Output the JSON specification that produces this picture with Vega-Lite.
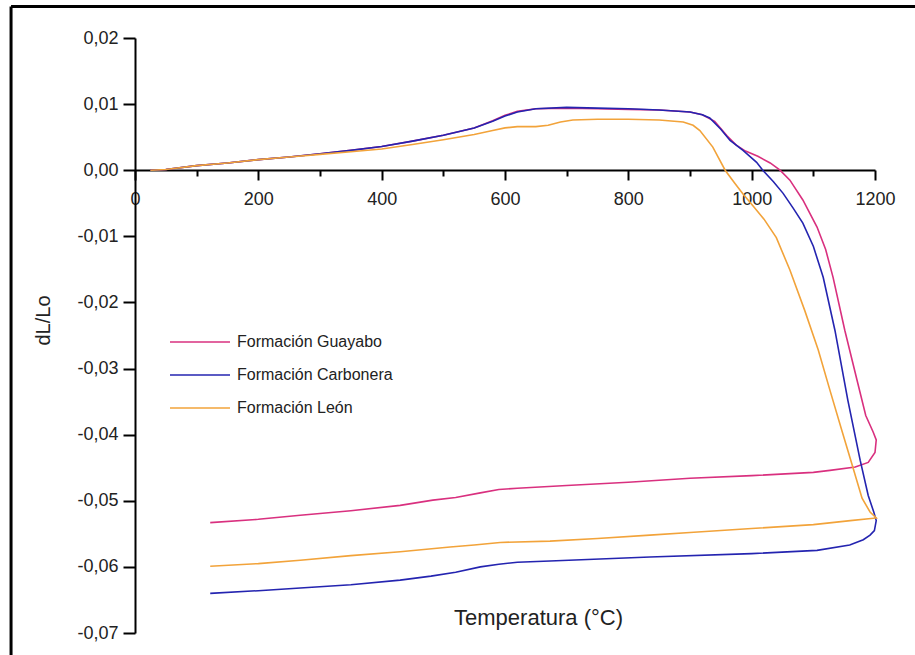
{
  "$schema": "https://vega.github.io/schema/vega-lite/v6.json",
  "width": 740,
  "height": 595,
  "autosize": {"type": "none"},
  "padding": {"left": 135, "top": 38, "right": 40, "bottom": 22},
  "background": "white",
  "config": {"view": {"stroke": null}, "font": "Liberation Sans"},
  "datasets": {
    "curves": [
      {"s":"Formación Guayabo","i":1,"T":25,"v":0},
      {"s":"Formación Guayabo","i":2,"T":50,"v":0.0001},
      {"s":"Formación Guayabo","i":3,"T":100,"v":0.0007},
      {"s":"Formación Guayabo","i":4,"T":150,"v":0.0011},
      {"s":"Formación Guayabo","i":5,"T":200,"v":0.0016},
      {"s":"Formación Guayabo","i":6,"T":250,"v":0.002},
      {"s":"Formación Guayabo","i":7,"T":300,"v":0.0025},
      {"s":"Formación Guayabo","i":8,"T":350,"v":0.003},
      {"s":"Formación Guayabo","i":9,"T":400,"v":0.0036},
      {"s":"Formación Guayabo","i":10,"T":450,"v":0.0044},
      {"s":"Formación Guayabo","i":11,"T":500,"v":0.0053},
      {"s":"Formación Guayabo","i":12,"T":550,"v":0.0064},
      {"s":"Formación Guayabo","i":13,"T":580,"v":0.0075},
      {"s":"Formación Guayabo","i":14,"T":600,"v":0.0083},
      {"s":"Formación Guayabo","i":15,"T":620,"v":0.0089},
      {"s":"Formación Guayabo","i":16,"T":650,"v":0.0093},
      {"s":"Formación Guayabo","i":17,"T":700,"v":0.0094},
      {"s":"Formación Guayabo","i":18,"T":750,"v":0.0093},
      {"s":"Formación Guayabo","i":19,"T":800,"v":0.0092},
      {"s":"Formación Guayabo","i":20,"T":850,"v":0.0091},
      {"s":"Formación Guayabo","i":21,"T":900,"v":0.0088},
      {"s":"Formación Guayabo","i":22,"T":920,"v":0.0084},
      {"s":"Formación Guayabo","i":23,"T":940,"v":0.0074},
      {"s":"Formación Guayabo","i":24,"T":960,"v":0.0052},
      {"s":"Formación Guayabo","i":25,"T":975,"v":0.0038},
      {"s":"Formación Guayabo","i":26,"T":990,"v":0.0029},
      {"s":"Formación Guayabo","i":27,"T":1010,"v":0.0021},
      {"s":"Formación Guayabo","i":28,"T":1030,"v":0.0011},
      {"s":"Formación Guayabo","i":29,"T":1046,"v":0},
      {"s":"Formación Guayabo","i":30,"T":1062,"v":-0.0015},
      {"s":"Formación Guayabo","i":31,"T":1083,"v":-0.0045},
      {"s":"Formación Guayabo","i":32,"T":1106,"v":-0.0086},
      {"s":"Formación Guayabo","i":33,"T":1120,"v":-0.012},
      {"s":"Formación Guayabo","i":34,"T":1132,"v":-0.0162},
      {"s":"Formación Guayabo","i":35,"T":1151,"v":-0.0242},
      {"s":"Formación Guayabo","i":36,"T":1171,"v":-0.0318},
      {"s":"Formación Guayabo","i":37,"T":1185,"v":-0.0371},
      {"s":"Formación Guayabo","i":38,"T":1197,"v":-0.0396},
      {"s":"Formación Guayabo","i":39,"T":1202,"v":-0.0408},
      {"s":"Formación Guayabo","i":40,"T":1200,"v":-0.0427},
      {"s":"Formación Guayabo","i":41,"T":1189,"v":-0.0442},
      {"s":"Formación Guayabo","i":42,"T":1168,"v":-0.0449},
      {"s":"Formación Guayabo","i":43,"T":1127,"v":-0.0454},
      {"s":"Formación Guayabo","i":44,"T":1100,"v":-0.0457},
      {"s":"Formación Guayabo","i":45,"T":1000,"v":-0.0462},
      {"s":"Formación Guayabo","i":46,"T":900,"v":-0.0466},
      {"s":"Formación Guayabo","i":47,"T":800,"v":-0.0472},
      {"s":"Formación Guayabo","i":48,"T":700,"v":-0.0477},
      {"s":"Formación Guayabo","i":49,"T":620,"v":-0.0481},
      {"s":"Formación Guayabo","i":50,"T":590,"v":-0.0483},
      {"s":"Formación Guayabo","i":51,"T":560,"v":-0.0488},
      {"s":"Formación Guayabo","i":52,"T":520,"v":-0.0495},
      {"s":"Formación Guayabo","i":53,"T":483,"v":-0.0499},
      {"s":"Formación Guayabo","i":54,"T":430,"v":-0.0507},
      {"s":"Formación Guayabo","i":55,"T":350,"v":-0.0515},
      {"s":"Formación Guayabo","i":56,"T":268,"v":-0.0522},
      {"s":"Formación Guayabo","i":57,"T":200,"v":-0.0528},
      {"s":"Formación Guayabo","i":58,"T":122,"v":-0.0533},

      {"s":"Formación Carbonera","i":1,"T":25,"v":0},
      {"s":"Formación Carbonera","i":2,"T":50,"v":0.0001},
      {"s":"Formación Carbonera","i":3,"T":100,"v":0.0007},
      {"s":"Formación Carbonera","i":4,"T":150,"v":0.0011},
      {"s":"Formación Carbonera","i":5,"T":200,"v":0.0016},
      {"s":"Formación Carbonera","i":6,"T":250,"v":0.002},
      {"s":"Formación Carbonera","i":7,"T":300,"v":0.0025},
      {"s":"Formación Carbonera","i":8,"T":350,"v":0.003},
      {"s":"Formación Carbonera","i":9,"T":400,"v":0.0036},
      {"s":"Formación Carbonera","i":10,"T":450,"v":0.0044},
      {"s":"Formación Carbonera","i":11,"T":500,"v":0.0053},
      {"s":"Formación Carbonera","i":12,"T":550,"v":0.0064},
      {"s":"Formación Carbonera","i":13,"T":580,"v":0.0074},
      {"s":"Formación Carbonera","i":14,"T":600,"v":0.0082},
      {"s":"Formación Carbonera","i":15,"T":620,"v":0.0088},
      {"s":"Formación Carbonera","i":16,"T":650,"v":0.0093},
      {"s":"Formación Carbonera","i":17,"T":700,"v":0.0095},
      {"s":"Formación Carbonera","i":18,"T":750,"v":0.0094},
      {"s":"Formación Carbonera","i":19,"T":800,"v":0.0093},
      {"s":"Formación Carbonera","i":20,"T":850,"v":0.0091},
      {"s":"Formación Carbonera","i":21,"T":900,"v":0.0088},
      {"s":"Formación Carbonera","i":22,"T":920,"v":0.0084},
      {"s":"Formación Carbonera","i":23,"T":932,"v":0.0079},
      {"s":"Formación Carbonera","i":24,"T":950,"v":0.0062},
      {"s":"Formación Carbonera","i":25,"T":965,"v":0.0045},
      {"s":"Formación Carbonera","i":26,"T":986,"v":0.003},
      {"s":"Formación Carbonera","i":27,"T":1008,"v":0.0012},
      {"s":"Formación Carbonera","i":28,"T":1018,"v":0},
      {"s":"Formación Carbonera","i":29,"T":1035,"v":-0.0017},
      {"s":"Formación Carbonera","i":30,"T":1051,"v":-0.0035},
      {"s":"Formación Carbonera","i":31,"T":1067,"v":-0.0057},
      {"s":"Formación Carbonera","i":32,"T":1083,"v":-0.008},
      {"s":"Formación Carbonera","i":33,"T":1100,"v":-0.0115},
      {"s":"Formación Carbonera","i":34,"T":1116,"v":-0.0162},
      {"s":"Formación Carbonera","i":35,"T":1135,"v":-0.0242},
      {"s":"Formación Carbonera","i":36,"T":1156,"v":-0.0348},
      {"s":"Formación Carbonera","i":37,"T":1176,"v":-0.0439},
      {"s":"Formación Carbonera","i":38,"T":1189,"v":-0.0492},
      {"s":"Formación Carbonera","i":39,"T":1198,"v":-0.0517},
      {"s":"Formación Carbonera","i":40,"T":1202,"v":-0.053},
      {"s":"Formación Carbonera","i":41,"T":1199,"v":-0.0545},
      {"s":"Formación Carbonera","i":42,"T":1192,"v":-0.0552},
      {"s":"Formación Carbonera","i":43,"T":1181,"v":-0.0559},
      {"s":"Formación Carbonera","i":44,"T":1159,"v":-0.0567},
      {"s":"Formación Carbonera","i":45,"T":1106,"v":-0.0575},
      {"s":"Formación Carbonera","i":46,"T":1000,"v":-0.058},
      {"s":"Formación Carbonera","i":47,"T":835,"v":-0.0585},
      {"s":"Formación Carbonera","i":48,"T":673,"v":-0.0591},
      {"s":"Formación Carbonera","i":49,"T":620,"v":-0.0593},
      {"s":"Formación Carbonera","i":50,"T":590,"v":-0.0596},
      {"s":"Formación Carbonera","i":51,"T":560,"v":-0.06},
      {"s":"Formación Carbonera","i":52,"T":520,"v":-0.0608},
      {"s":"Formación Carbonera","i":53,"T":480,"v":-0.0614},
      {"s":"Formación Carbonera","i":54,"T":430,"v":-0.062},
      {"s":"Formación Carbonera","i":55,"T":350,"v":-0.0627},
      {"s":"Formación Carbonera","i":56,"T":268,"v":-0.0632},
      {"s":"Formación Carbonera","i":57,"T":200,"v":-0.0636},
      {"s":"Formación Carbonera","i":58,"T":122,"v":-0.064},

      {"s":"Formación León","i":1,"T":25,"v":0},
      {"s":"Formación León","i":2,"T":50,"v":0.0001},
      {"s":"Formación León","i":3,"T":100,"v":0.0007},
      {"s":"Formación León","i":4,"T":150,"v":0.0011},
      {"s":"Formación León","i":5,"T":200,"v":0.0016},
      {"s":"Formación León","i":6,"T":250,"v":0.002},
      {"s":"Formación León","i":7,"T":300,"v":0.0024},
      {"s":"Formación León","i":8,"T":350,"v":0.0028},
      {"s":"Formación León","i":9,"T":400,"v":0.0032},
      {"s":"Formación León","i":10,"T":450,"v":0.0039},
      {"s":"Formación León","i":11,"T":500,"v":0.0046},
      {"s":"Formación León","i":12,"T":550,"v":0.0054},
      {"s":"Formación León","i":13,"T":580,"v":0.006},
      {"s":"Formación León","i":14,"T":600,"v":0.0064},
      {"s":"Formación León","i":15,"T":620,"v":0.0066},
      {"s":"Formación León","i":16,"T":650,"v":0.0066},
      {"s":"Formación León","i":17,"T":670,"v":0.0068},
      {"s":"Formación León","i":18,"T":690,"v":0.0073},
      {"s":"Formación León","i":19,"T":710,"v":0.0076},
      {"s":"Formación León","i":20,"T":750,"v":0.0077},
      {"s":"Formación León","i":21,"T":800,"v":0.0077},
      {"s":"Formación León","i":22,"T":850,"v":0.0076},
      {"s":"Formación León","i":23,"T":889,"v":0.0073},
      {"s":"Formación León","i":24,"T":905,"v":0.0068},
      {"s":"Formación León","i":25,"T":916,"v":0.006},
      {"s":"Formación León","i":26,"T":937,"v":0.0035},
      {"s":"Formación León","i":27,"T":957,"v":0},
      {"s":"Formación León","i":28,"T":972,"v":-0.0019},
      {"s":"Formación León","i":29,"T":986,"v":-0.0036},
      {"s":"Formación León","i":30,"T":1003,"v":-0.0055},
      {"s":"Formación León","i":31,"T":1020,"v":-0.0074},
      {"s":"Formación León","i":32,"T":1040,"v":-0.0102},
      {"s":"Formación León","i":33,"T":1062,"v":-0.0151},
      {"s":"Formación León","i":34,"T":1086,"v":-0.0212},
      {"s":"Formación León","i":35,"T":1108,"v":-0.0272},
      {"s":"Formación León","i":36,"T":1127,"v":-0.0333},
      {"s":"Formación León","i":37,"T":1146,"v":-0.0393},
      {"s":"Formación León","i":38,"T":1163,"v":-0.0446},
      {"s":"Formación León","i":39,"T":1179,"v":-0.0496},
      {"s":"Formación León","i":40,"T":1192,"v":-0.0517},
      {"s":"Formación León","i":41,"T":1202,"v":-0.0526},
      {"s":"Formación León","i":42,"T":1160,"v":-0.053},
      {"s":"Formación León","i":43,"T":1100,"v":-0.0536},
      {"s":"Formación León","i":44,"T":1000,"v":-0.0542},
      {"s":"Formación León","i":45,"T":900,"v":-0.0548},
      {"s":"Formación León","i":46,"T":835,"v":-0.0552},
      {"s":"Formación León","i":47,"T":750,"v":-0.0557},
      {"s":"Formación León","i":48,"T":673,"v":-0.0561},
      {"s":"Formación León","i":49,"T":592,"v":-0.0563},
      {"s":"Formación León","i":50,"T":550,"v":-0.0567},
      {"s":"Formación León","i":51,"T":511,"v":-0.057},
      {"s":"Formación León","i":52,"T":430,"v":-0.0577},
      {"s":"Formación León","i":53,"T":350,"v":-0.0583},
      {"s":"Formación León","i":54,"T":268,"v":-0.059},
      {"s":"Formación León","i":55,"T":200,"v":-0.0595},
      {"s":"Formación León","i":56,"T":122,"v":-0.0599}
    ]
  },
  "layer": [
    {
      "data": {"values": [{}]},
      "mark": {"type": "rule", "color": "black", "strokeWidth": 3, "clip": false},
      "encoding": {
        "x": {"datum": -201, "type": "quantitative"},
        "x2": {"datum": 1300},
        "y": {"datum": 0.02477, "type": "quantitative"}
      }
    },
    {
      "data": {"values": [{}]},
      "mark": {"type": "rule", "color": "black", "strokeWidth": 3, "clip": false},
      "encoding": {
        "x": {"datum": -201, "type": "quantitative"},
        "y": {"datum": 0.02477, "type": "quantitative"},
        "y2": {"datum": -0.075}
      }
    },
    {
      "data": {"name": "curves"},
      "mark": {"type": "line", "strokeWidth": 1.6, "clip": false},
      "encoding": {
        "x": {
          "field": "T", "type": "quantitative",
          "scale": {"domain": [0, 1200], "nice": false, "zero": false},
          "axis": {
            "title": "Temperatura (°C)",
            "offset": -463,
            "values": [0,100,200,300,400,500,600,700,800,900,1000,1100,1200],
            "format": "d",
            "labelExpr": "datum.value % 200 == 0 ? datum.label : ''",
            "labelOverlap": false, "labelFlush": false,
            "labelFontSize": 18, "labelFontWeight": "normal", "labelColor": "#222", "labelPadding": 10,
            "tickSize": {"condition": {"test": "datum.value % 200 == 0", "value": 10}, "value": 6},
            "tickColor": "black", "tickWidth": 2,
            "domainColor": "black", "domainWidth": 2,
            "grid": false,
            "titleFontSize": 22, "titleFontWeight": "normal", "titleColor": "#222",
            "titleX": 403, "titleY": 447, "titleBaseline": "middle", "titleAlign": "center"
          }
        },
        "y": {
          "field": "v", "type": "quantitative",
          "scale": {"domain": [-0.07, 0.02], "nice": false, "zero": false},
          "axis": {
            "title": "dL/Lo",
            "values": [-0.07,-0.065,-0.06,-0.055,-0.05,-0.045,-0.04,-0.035,-0.03,-0.025,-0.02,-0.015,-0.01,-0.005,0,0.005,0.01,0.015,0.02],
            "labelExpr": "round(datum.value*1000) % 10 == 0 ? replace(replace(format(datum.value, '.2f'), '.', ','), '\u2212', '-') : ''",
            "labelOverlap": false, "labelFlush": false,
            "labelFontSize": 18, "labelFontWeight": "normal", "labelColor": "#222", "labelPadding": 5,
            "tickSize": {"condition": {"test": "round(datum.value*1000) % 10 == 0", "value": 12}, "value": 6},
            "tickColor": "black", "tickWidth": 2,
            "domainColor": "black", "domainWidth": 2,
            "grid": false,
            "titleFontSize": 20, "titleFontWeight": "normal", "titleColor": "#222",
            "titleX": -92, "titleY": 282, "titleBaseline": "middle", "titleAlign": "center"
          }
        },
        "color": {
          "field": "s", "type": "nominal",
          "scale": {
            "domain": ["Formación Guayabo", "Formación Carbonera", "Formación León"],
            "range": ["#d9307f", "#2424b0", "#f2a33a"]
          },
          "legend": {
            "title": null,
            "orient": "none",
            "legendX": 40,
            "legendY": 279,
            "symbolType": "M-1.237,0L1.237,0",
            "symbolSize": 2352,
            "symbolStrokeWidth": 1.5,
            "symbolFillColor": "transparent",
            "labelFontSize": 16,
            "labelColor": "#222",
            "labelOffset": 12,
            "rowPadding": 0,
            "padding": 0
          }
        },
        "order": {"field": "i", "type": "quantitative"}
      }
    }
  ]
}
